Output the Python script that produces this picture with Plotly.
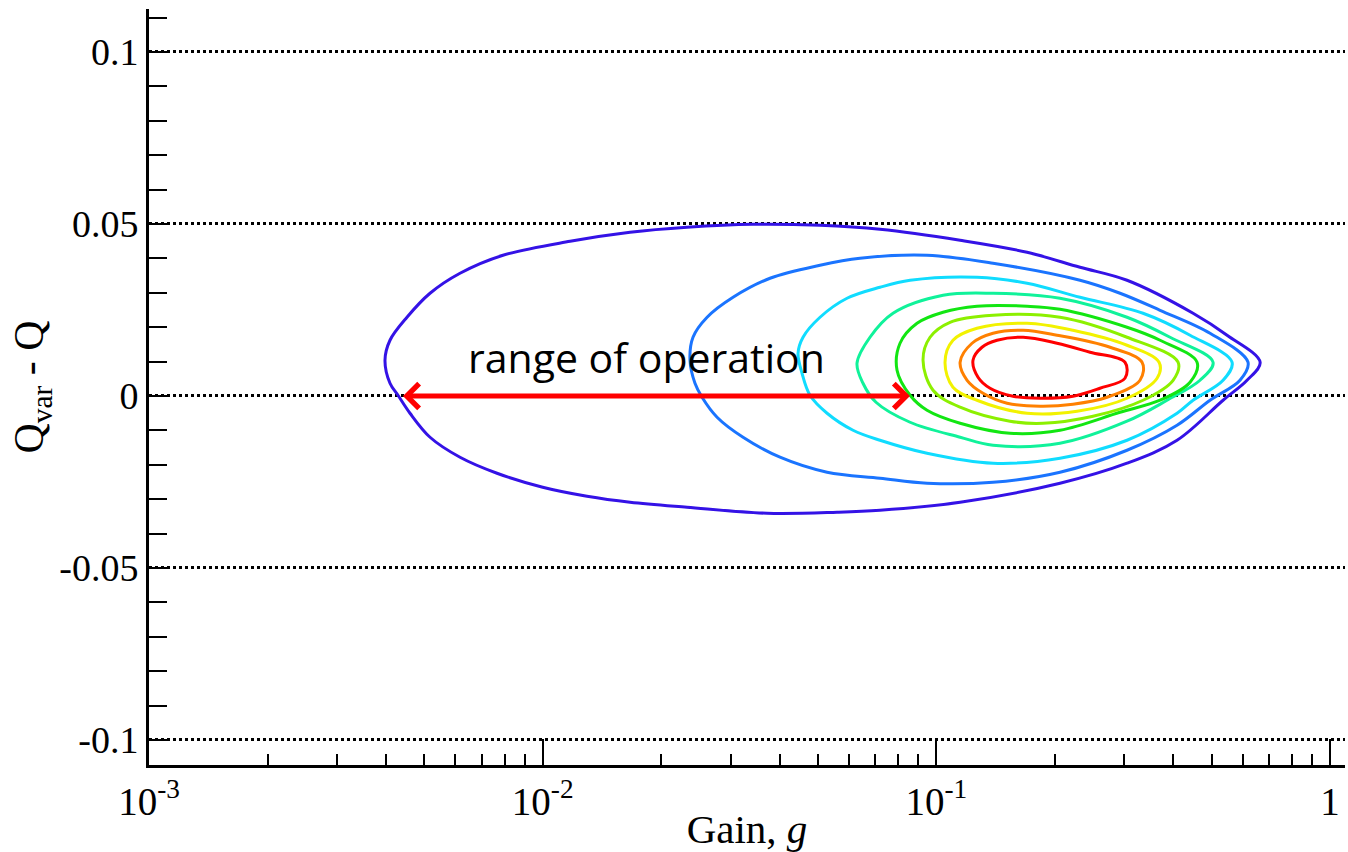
import numpy as np
import plotly.graph_objects as go

# ---------------- data ----------------
# contour lines, outermost (c1) to innermost (c9); gain g and Q_var - Q
gain_c1 = [0.6643, 0.5475, 0.4488, 0.3050, 0.2317, 0.1700, 0.1149, 0.07191, 0.05064, 0.03422,
           0.02326, 0.01667, 0.01174, 0.007928, 0.006166, 0.005174, 0.004522, 0.004094, 0.003976,
           0.004094, 0.004290, 0.004602, 0.005174, 0.006166, 0.007655, 0.01000, 0.01296, 0.01667,
           0.02326, 0.03714, 0.05595, 0.07191, 0.1149, 0.2061, 0.3050, 0.4087, 0.5349, 0.6153, 0.6643]
q_c1 = [0.00980, 0.01765, 0.02404, 0.03363, 0.03741, 0.04177, 0.04526, 0.04846, 0.04962, 0.04991,
        0.04904, 0.04759, 0.04497, 0.04090, 0.03567, 0.02985, 0.02288, 0.01619, 0.01038,
        0.00369, 0.00020, -0.00503, -0.01201, -0.01782, -0.02247, -0.02654, -0.02916, -0.03090,
        -0.03236, -0.03410, -0.03381, -0.03323, -0.03090, -0.02538, -0.01956, -0.01288, -0.00125, 0.00456, 0.00980]

gain_c2 = [0.6189, 0.4957, 0.3700, 0.2928, 0.2317, 0.1393, 0.09469, 0.06398, 0.05064, 0.03780,
           0.03045, 0.02616, 0.02409, 0.02367, 0.02437, 0.02540, 0.02773, 0.03228, 0.04007, 0.05277,
           0.07191, 0.09469, 0.1393, 0.2061, 0.3050, 0.4087, 0.4957, 0.5906, 0.6189]
q_c2 = [0.00980, 0.01823, 0.02491, 0.02985, 0.03363, 0.03858, 0.04090, 0.04003, 0.03799, 0.03422,
        0.02869, 0.02288, 0.01706, 0.01038, 0.00369, -0.00038, -0.00619, -0.01201, -0.01782, -0.02218,
        -0.02392, -0.02538, -0.02509, -0.02218, -0.01579, -0.00852, -0.00125, 0.00456, 0.00980]

gain_c3 = [0.5638, 0.4410, 0.3349, 0.2317, 0.1700, 0.1268, 0.08574, 0.07191, 0.05930, 0.05064,
           0.04585, 0.04453, 0.04558, 0.04776, 0.05277, 0.06142, 0.07191, 0.09469, 0.1393, 0.2061,
           0.3050, 0.4087, 0.4488, 0.5349, 0.5638]
q_c3 = [0.00980, 0.01765, 0.02404, 0.02869, 0.03276, 0.03451, 0.03363, 0.03160, 0.02840, 0.02288,
        0.01706, 0.01241, 0.00660, 0.00020, -0.00503, -0.00997, -0.01288, -0.01666, -0.01956, -0.01811,
        -0.01288, -0.00503, -0.00125, 0.00456, 0.00980]

gain_c4 = [0.5045, 0.3923, 0.3050, 0.2061, 0.1393, 0.1040, 0.07761, 0.06783, 0.06287, 0.06511,
           0.07025, 0.08574, 0.1149, 0.1393, 0.2061, 0.3050, 0.3855, 0.4675, 0.5045]
q_c4 = [0.00980, 0.01706, 0.02288, 0.02840, 0.02985, 0.02927, 0.02404, 0.01706, 0.00951, 0.00369,
        -0.00183, -0.00765, -0.01201, -0.01433, -0.01375, -0.00735, -0.00125, 0.00456, 0.00980]

gain_c5 = [0.4594, 0.3700, 0.3050, 0.2061, 0.1700, 0.1268, 0.1040, 0.08931, 0.08085, 0.07945,
           0.08574, 0.09469, 0.1149, 0.1538, 0.2061, 0.2928, 0.3700, 0.4410, 0.4594]
q_c5 = [0.00980, 0.01619, 0.01997, 0.02520, 0.02608, 0.02608, 0.02433, 0.02113, 0.01532, 0.00747,
        0.00020, -0.00416, -0.00794, -0.01084, -0.00997, -0.00474, -0.00125, 0.00398, 0.00980]

gain_c6 = [0.4111, 0.3050, 0.2061, 0.1393, 0.1083, 0.09637, 0.09250, 0.09807, 0.1149, 0.1538,
           0.1866, 0.2500, 0.3349, 0.3993, 0.4111]
q_c6 = [0.00980, 0.01706, 0.02288, 0.02346, 0.02142, 0.01706, 0.01038, 0.00166, -0.00328, -0.00735,
        -0.00794, -0.00590, -0.00125, 0.00456, 0.00980]

gain_c7 = [0.3679, 0.3050, 0.2224, 0.1700, 0.1268, 0.1102, 0.1052, 0.1102, 0.1268, 0.1700,
           0.2277, 0.3050, 0.3636, 0.3679]
q_c7 = [0.00980, 0.01474, 0.01910, 0.02113, 0.01968, 0.01619, 0.00980, 0.00253, -0.00125, -0.00503,
        -0.00445, -0.00067, 0.00515, 0.00980]

gain_c8 = [0.3330, 0.2762, 0.2025, 0.1661, 0.1393, 0.1232, 0.1149, 0.1197, 0.1314, 0.1512,
           0.1834, 0.2224, 0.2714, 0.3291, 0.3330]
q_c8 = [0.00980, 0.01416, 0.01765, 0.01910, 0.01823, 0.01532, 0.00980, 0.00456, 0.00078, -0.00212,
        -0.00299, -0.00241, -0.00038, 0.00456, 0.00980]

gain_c9 = [0.3014, 0.2457, 0.2025, 0.1661, 0.1426, 0.1306, 0.1239, 0.1276, 0.1369, 0.1566,
           0.1834, 0.2224, 0.2604, 0.3014, 0.3014]
q_c9 = [0.00980, 0.01270, 0.01532, 0.01706, 0.01619, 0.01416, 0.01038, 0.00544, 0.00224, -0.00009,
        -0.00067, -0.00009, 0.00224, 0.00515, 0.00980]

contour_colors = ["#3412e6", "#1a74ff", "#10dcff", "#10f29a", "#12e612",
                  "#8cf000", "#f2f200", "#ff8000", "#ff0000"]

# range of operation (arrow end points along Q_var - Q = 0)
range_gain = [0.00434, 0.0857]
range_q = 0.0
range_label = "range of operation"
label_pos = (0.0184, 0.0113)

# axes
x_tickvals = [0.001, 0.01, 0.1, 1]
x_ticktext = ["10<sup>-3</sup>", "10<sup>-2</sup>", "10<sup>-1</sup>", "1"]
x_minor = [m * d for d in (0.001, 0.01, 0.1) for m in range(2, 10)]
y_tickvals = [-0.1, -0.05, 0, 0.05, 0.1]
y_ticktext = ["-0.1", "-0.05", "0", "0.05", "0.1"]

# ---------------- figure ----------------
contours = [(gain_c1, q_c1), (gain_c2, q_c2), (gain_c3, q_c3), (gain_c4, q_c4), (gain_c5, q_c5),
            (gain_c6, q_c6), (gain_c7, q_c7), (gain_c8, q_c8), (gain_c9, q_c9)]

fig = go.Figure()
for (gx, qy), col in zip(contours, contour_colors):
    fig.add_trace(go.Scatter(x=gx, y=qy, mode="lines",
                             line=dict(color=col, width=3, shape="spline", smoothing=1.0),
                             showlegend=False, hoverinfo="skip"))

serif = "Liberation Serif, Times New Roman, serif"

fig.add_annotation(x=np.log10(range_gain[1]), y=range_q,
                   ax=np.log10(range_gain[0]), ay=range_q,
                   xref="x", yref="y", axref="x", ayref="y",
                   text=" ", showarrow=True, arrowside="end+start",
                   arrowhead=4, startarrowhead=4, arrowsize=0.95, startarrowsize=0.95,
                   arrowwidth=5, arrowcolor="#ff0000", standoff=0, startstandoff=0)

fig.add_annotation(x=np.log10(label_pos[0]), y=label_pos[1], xref="x", yref="y",
                   text=range_label, showarrow=False, xanchor="center", yanchor="middle",
                   font=dict(family="Open Sans, sans-serif", size=41, color="black"))

fig.update_layout(
    width=1348, height=852,
    margin=dict(l=149, r=3, t=9, b=87, autoexpand=False),
    paper_bgcolor="white", plot_bgcolor="white",
    showlegend=False,
    xaxis=dict(type="log", range=[-3, 0.038],
               tickmode="array", tickvals=x_tickvals, ticktext=x_ticktext,
               ticks="inside", ticklen=26, tickwidth=2, tickcolor="black",
               minor=dict(tickmode="array", tickvals=x_minor, ticks="inside",
                          ticklen=11, tickwidth=2, tickcolor="black", showgrid=False),
               showgrid=False, zeroline=False,
               showline=True, linecolor="black", linewidth=3,
               tickfont=dict(family=serif, size=39, color="black"),
               title=dict(text="Gain, <i>g</i>", standoff=0,
                          font=dict(family=serif, size=41, color="black")),
               automargin=False),
    yaxis=dict(range=[-0.1073, 0.1125],
               tickmode="array", tickvals=y_tickvals, ticktext=y_ticktext,
               ticks="inside", ticklen=18, tickwidth=2, tickcolor="black",
               minor=dict(dtick=0.01, tick0=0, ticks="inside", ticklen=18, tickwidth=2,
                          tickcolor="black", showgrid=False),
               showgrid=True, gridcolor="black", gridwidth=2.5, griddash="dot",
               zeroline=False,
               showline=True, linecolor="black", linewidth=3,
               tickfont=dict(family=serif, size=38, color="black"),
               title=dict(text="Q<sub>var</sub> - Q", standoff=3,
                          font=dict(family=serif, size=42, color="black")),
               automargin=False),
)

fig.write_html("out.html")
